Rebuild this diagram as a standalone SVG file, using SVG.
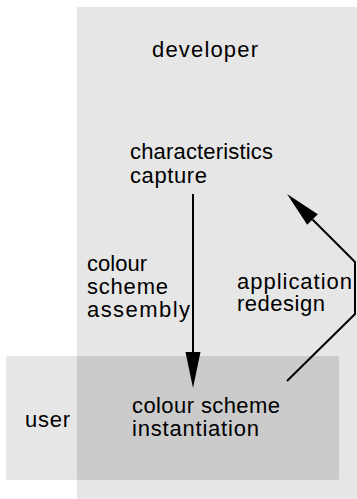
<svg xmlns="http://www.w3.org/2000/svg" width="357" height="499" viewBox="0 0 357 499">
<style>
text{font-family:"Liberation Sans",Arial,sans-serif;font-size:22px;fill:#000}
.lane{fill:#e6e6e6}
.ov{fill:#cbcbcb}
.c{fill:none;stroke:#000;stroke-width:2}
</style>
<defs>
<marker id="ah" markerUnits="userSpaceOnUse" markerWidth="36" markerHeight="15" refX="0" refY="7.5" orient="auto" overflow="visible">
<path d="M0,0 L36,7.5 L0,15 z" fill="#000"/>
</marker>
</defs>
<g id="developer">
<rect class="lane" x="77" y="7" width="282" height="494"/>
<text x="152" y="57" textLength="106" lengthAdjust="spacing">developer</text>
</g>
<g id="user">
<rect class="lane" x="6" y="356" width="333" height="124" rx="2"/>
<rect class="ov" x="77" y="356" width="262" height="124" rx="2"/>
<text x="25" y="427" textLength="45" lengthAdjust="spacing">user</text>
</g>
<g id="characteristics-capture">
<text x="130" y="159" textLength="143" lengthAdjust="spacing">characteristics</text>
<text x="130" y="183" textLength="77" lengthAdjust="spacing">capture</text>
</g>
<g id="colour-scheme-instantiation">
<text x="132" y="413" textLength="148" lengthAdjust="spacing">colour scheme</text>
<text x="132" y="436" textLength="127" lengthAdjust="spacing">instantiation</text>
</g>
<g id="connectors">
<line class="c" x1="193" y1="194" x2="193" y2="352" marker-end="url(#ah)"/>
<polyline class="c" points="287,381 355,314 355,262 312.5,219.5" marker-end="url(#ah)"/>
<text x="87" y="271" textLength="60" lengthAdjust="spacing">colour</text>
<text x="87" y="294" textLength="81" lengthAdjust="spacing">scheme</text>
<text x="87" y="317" textLength="103" lengthAdjust="spacing">assembly</text>
<text x="237" y="289" textLength="115" lengthAdjust="spacing">application</text>
<text x="237" y="311" textLength="88" lengthAdjust="spacing">redesign</text>
</g>
</svg>
